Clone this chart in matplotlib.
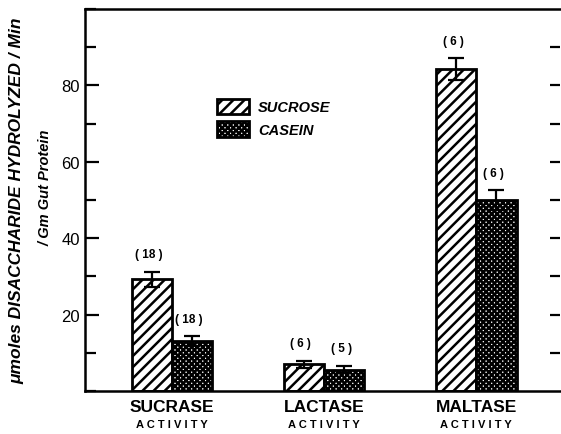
import numpy as np
import matplotlib
matplotlib.use("Agg")
import matplotlib.pyplot as plt
from matplotlib.ticker import MultipleLocator

# ---- data ----
groups = ["SUCRASE", "LACTASE", "MALTASE"]
sucrose = [29.2, 7.0, 84.3]
sucrose_err = [2.0, 0.9, 2.8]
sucrose_n = ["( 18 )", "( 6 )", "( 6 )"]
casein = [13.0, 5.6, 50.0]
casein_err = [1.3, 1.0, 2.6]
casein_n = ["( 18 )", "( 5 )", "( 6 )"]

plt.rcParams["font.family"] = ["Liberation Sans", "DejaVu Sans"]
plt.rcParams["hatch.linewidth"] = 1.8

fig = plt.figure(figsize=(5.61, 4.35), dpi=100)
ax = fig.add_axes([0.152, 0.099, 0.846, 0.878])

x = np.arange(len(groups))
w = 0.265

ax.bar(x - w / 2, sucrose, w, facecolor="white", edgecolor="black",
       hatch="///", linewidth=2, zorder=2, label="SUCROSE")
ax.bar(x + w / 2, casein, w, facecolor="white", edgecolor="black",
       hatch="xxxxxx", linewidth=2, zorder=2, label="CASEIN")
ax.errorbar(x - w / 2, sucrose, yerr=sucrose_err, fmt="none", ecolor="black",
            elinewidth=1.6, capsize=6, capthick=1.6, zorder=3)
ax.errorbar(x + w / 2, casein, yerr=casein_err, fmt="none", ecolor="black",
            elinewidth=1.6, capsize=6, capthick=1.6, zorder=3)

for xi, v, e, s in zip(x - w / 2, sucrose, sucrose_err, sucrose_n):
    ax.text(xi - 0.02, v + e + 3.0, s, ha="center", va="bottom",
            fontsize=8.5, fontweight="bold")
for xi, v, e, s in zip(x + w / 2, casein, casein_err, casein_n):
    ax.text(xi - 0.02, v + e + 3.0, s, ha="center", va="bottom",
            fontsize=8.5, fontweight="bold")

ax.set_xlim(-0.57, 2.55)
ax.set_ylim(0, 100)
ax.set_xticks([])
ax.set_yticks([20, 40, 60, 80])
ax.yaxis.set_minor_locator(MultipleLocator(10))
ax.tick_params(axis="y", which="major", direction="in", length=10, width=1.6,
               labelsize=12, pad=4)
ax.tick_params(axis="y", which="minor", direction="in", length=8, width=1.6)
for side in ["left", "bottom", "top"]:
    ax.spines[side].set_linewidth(1.8)
ax.spines["right"].set_visible(False)

# short tick dashes along the right edge
ax2 = ax.twinx()
ax2.set_ylim(ax.get_ylim())
ax2.set_yticks(np.arange(10, 100, 10))
ax2.tick_params(axis="y", direction="in", length=7, width=1.6, labelright=False)
for side in ax2.spines:
    ax2.spines[side].set_visible(False)

for xi, g in zip(x, groups):
    ax.text(xi, -2.2, g, ha="center", va="top", fontsize=12.5,
            fontweight="bold", clip_on=False)
    ax.text(xi, -7.3, "A C T I V I T Y", ha="center", va="top", fontsize=8,
            fontweight="bold", clip_on=False)

fig.text(0.03, 0.538, "\u03bcmoles DISACCHARIDE HYDROLYZED / Min",
         rotation=90, ha="center", va="center", fontsize=12.5,
         fontweight="bold", fontstyle="italic")
fig.text(0.082, 0.568, "/ Gm Gut Protein", rotation=90, ha="center",
         va="center", fontsize=10.5, fontweight="bold", fontstyle="italic")

leg = ax.legend(loc="upper left", bbox_to_anchor=(0.25, 0.80), frameon=False,
                handlelength=2.2, handleheight=1.3, handletextpad=0.6,
                labelspacing=0.45,
                prop={"weight": "bold", "style": "italic", "size": 10.5})

fig.savefig("out.png", dpi=100)
